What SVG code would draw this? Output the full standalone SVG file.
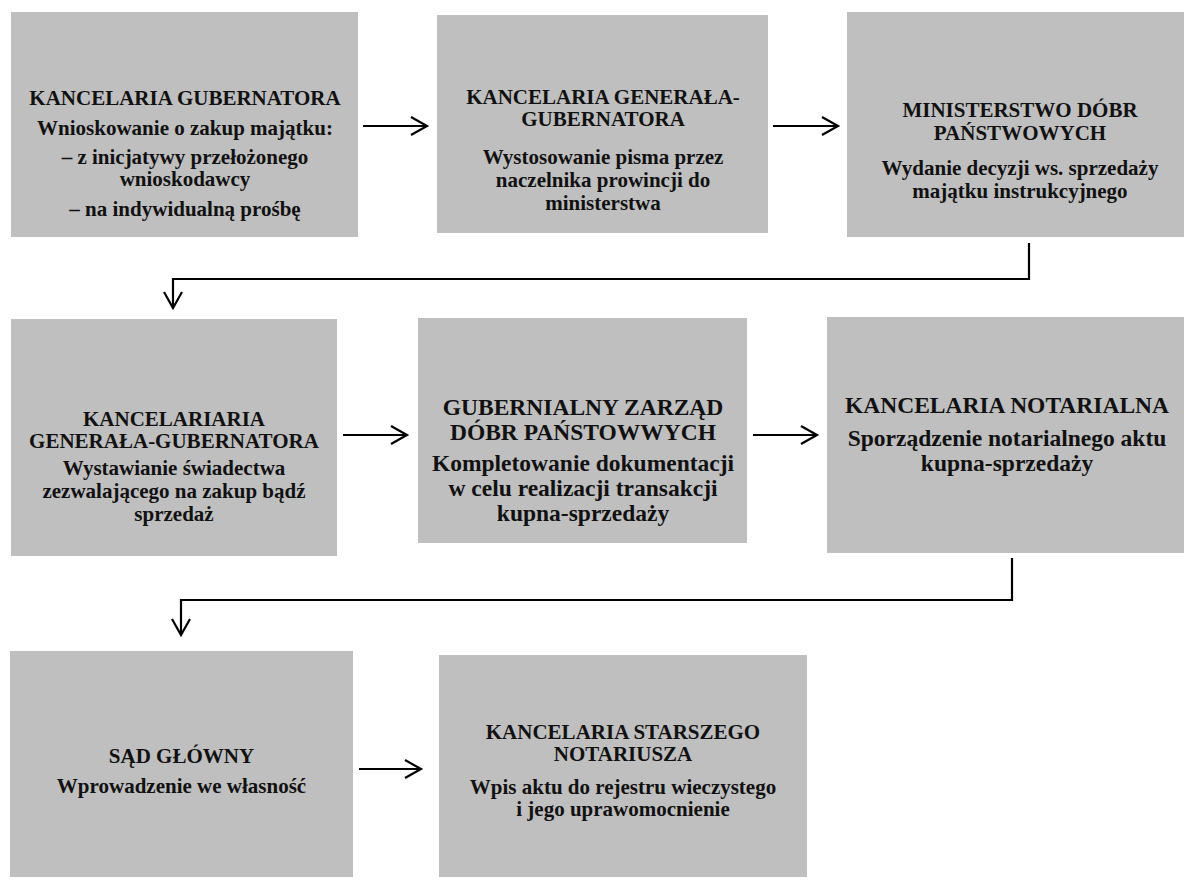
<svg xmlns="http://www.w3.org/2000/svg" width="1184" height="881" viewBox="0 0 1184 881">
<style>
.box{fill:#bfbfbf;}
.t{font-family:"Liberation Serif","Times New Roman",serif;font-weight:bold;font-size:21px;fill:#111;text-anchor:middle;}
.l{font-size:23.5px;}
.c{fill:none;stroke:#000;stroke-width:2.2;marker-end:url(#ah);}
</style>
<defs>
<marker id="ah" markerUnits="userSpaceOnUse" viewBox="-18 -11 20 22" refX="0" refY="0" markerWidth="20" markerHeight="22" orient="auto" overflow="visible">
<path d="M-16,-9 L0,0 L-16,9" fill="none" stroke="#000" stroke-width="2.2"/>
</marker>
</defs>
<rect width="1184" height="881" fill="#fff"/>
<g id="n1">
<rect class="box" x="11" y="12" width="347" height="225"/>
<text class="t" x="185" y="105">KANCELARIA GUBERNATORA</text>
<text class="t" x="185" y="135">Wnioskowanie o zakup majątku:</text>
<text class="t" x="185" y="164">– z inicjatywy przełożonego</text>
<text class="t" x="185" y="186">wnioskodawcy</text>
<text class="t" x="185" y="216">– na indywidualną prośbę</text>
</g>
<g id="n2">
<rect class="box" x="437" y="15" width="331" height="218"/>
<text class="t" x="603" y="104">KANCELARIA GENERAŁA-</text>
<text class="t" x="603" y="126">GUBERNATORA</text>
<text class="t" x="603" y="164">Wystosowanie pisma przez</text>
<text class="t" x="603" y="187">naczelnika prowincji do</text>
<text class="t" x="603" y="210">ministerstwa</text>
</g>
<g id="n3">
<rect class="box" x="847" y="12" width="337" height="225"/>
<text class="t" x="1020" y="117">MINISTERSTWO DÓBR</text>
<text class="t" x="1020" y="140">PAŃSTWOWYCH</text>
<text class="t" x="1020" y="175">Wydanie decyzji ws. sprzedaży</text>
<text class="t" x="1020" y="198">majątku instrukcyjnego</text>
</g>
<g id="n4">
<rect class="box" x="11" y="319" width="326" height="237"/>
<text class="t" x="174" y="426">KANCELARIARIA</text>
<text class="t" x="174" y="448">GENERAŁA-GUBERNATORA</text>
<text class="t" x="174" y="475">Wystawianie świadectwa</text>
<text class="t" x="174" y="498">zezwalającego na zakup bądź</text>
<text class="t" x="174" y="521">sprzedaż</text>
</g>
<g id="n5">
<rect class="box" x="418" y="318" width="329" height="225"/>
<text class="t l" x="583" y="415">GUBERNIALNY ZARZĄD</text>
<text class="t l" x="583" y="440">DÓBR PAŃSTOWWYCH</text>
<text class="t l" x="583" y="471">Kompletowanie dokumentacji</text>
<text class="t l" x="583" y="496">w celu realizacji transakcji</text>
<text class="t l" x="583" y="521">kupna-sprzedaży</text>
</g>
<g id="n6">
<rect class="box" x="827" y="317" width="357" height="236"/>
<text class="t l" x="1007" y="413">KANCELARIA NOTARIALNA</text>
<text class="t l" x="1007" y="446">Sporządzenie notarialnego aktu</text>
<text class="t l" x="1007" y="471">kupna-sprzedaży</text>
</g>
<g id="n7">
<rect class="box" x="10" y="651" width="343" height="226"/>
<text class="t" x="181.5" y="763">SĄD GŁÓWNY</text>
<text class="t" x="181.5" y="793">Wprowadzenie we własność</text>
</g>
<g id="n8">
<rect class="box" x="439" y="655" width="368" height="222"/>
<text class="t" x="623" y="739">KANCELARIA STARSZEGO</text>
<text class="t" x="623" y="761">NOTARIUSZA</text>
<text class="t" x="623" y="794">Wpis aktu do rejestru wieczystego</text>
<text class="t" x="623" y="816">i jego uprawomocnienie</text>
</g>
<g id="connectors">
<path class="c" d="M363,126 H427"/>
<path class="c" d="M773,126 H838"/>
<path class="c" d="M1029,243 V279 H173 V308"/>
<path class="c" d="M343,435 H407"/>
<path class="c" d="M753,435 H817"/>
<path class="c" d="M1012,558 V600 H181 V635"/>
<path class="c" d="M359,769 H421"/>
</g>
</svg>
